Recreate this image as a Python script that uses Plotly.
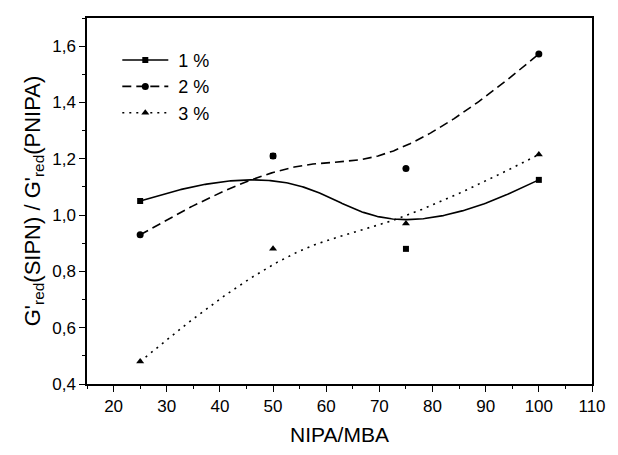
import numpy as np
import plotly.graph_objects as go

# ---- data ----
nipa_mba = [25, 50, 75, 100]
g_1pct = [1.05, 1.21, 0.88, 1.125]
g_2pct = [0.93, 1.21, 1.165, 1.572]
g_3pct = [0.48, 0.88, 0.97, 1.215]
series_names = ["1 %", "2 %", "3 %"]
x_ticks = [20, 30, 40, 50, 60, 70, 80, 90, 100, 110]
y_ticks = [0.4, 0.6, 0.8, 1.0, 1.2, 1.4, 1.6]


def smooth_curve(xs, ys, n=60, sigma_x=4.0):
    """Clamped quadratic B-spline with the data as control points,
    lightly Gaussian-smoothed to remove the curvature jump at the join."""
    P = np.column_stack([xs, ys]).astype(float)
    starts = [P[0]] + [(P[i] + P[i + 1]) / 2 for i in range(1, len(P) - 2)]
    ends = [(P[i] + P[i + 1]) / 2 for i in range(1, len(P) - 2)] + [P[-1]]
    ctrls = [P[i] for i in range(1, len(P) - 1)]
    s = np.linspace(0, 1, n)[:, None]
    pts = np.vstack([(1 - s) ** 2 * a + 2 * s * (1 - s) * c + s ** 2 * b
                     for a, c, b in zip(starts, ctrls, ends)])
    order = np.argsort(pts[:, 0])
    px, py = pts[order, 0], pts[order, 1]
    fx = np.linspace(xs[0], xs[-1], 301)
    fy = np.interp(fx, px, py)
    step = fx[1] - fx[0]
    half = int(3 * sigma_x / step)
    k = np.exp(-0.5 * ((np.arange(-half, half + 1) * step) / sigma_x) ** 2)
    k /= k.sum()
    left = 2 * fy[0] - fy[1:half + 1][::-1]
    right = 2 * fy[-1] - fy[-half - 1:-1][::-1]
    padded = np.concatenate([left, fy, right])
    sy = np.convolve(padded, k, mode="valid")
    return fx, sy


styles = [
    dict(dash="solid", symbol="square", size=6),
    dict(dash="9px,5px", symbol="circle", size=7),
    dict(dash="2px,5px", symbol="triangle-up", size=7),
]

fig = go.Figure()
for name, ys, st in zip(series_names, [g_1pct, g_2pct, g_3pct], styles):
    cx, cy = smooth_curve(nipa_mba, ys)
    fig.add_trace(go.Scatter(
        x=cx, y=cy, mode="lines", name=name, legendgroup=name,
        line=dict(color="black", width=1.6, dash=st["dash"]),
        showlegend=False, hoverinfo="skip"))
    fig.add_trace(go.Scatter(
        x=nipa_mba, y=ys, mode="markers", name=name, legendgroup=name,
        marker=dict(symbol=st["symbol"], size=st["size"], color="black"),
        showlegend=False))
    fig.add_trace(go.Scatter(
        x=[None], y=[None], mode="lines+markers",
        name="\u00a0" + name, legendgroup=name,
        line=dict(color="black", width=1.6, dash=st["dash"]),
        marker=dict(symbol=st["symbol"], size=st["size"], color="black")))

font_family = "Liberation Sans, Arial, Helvetica, sans-serif"

fig.update_layout(
    width=618, height=455,
    margin=dict(l=87, r=19, t=18, b=62),
    paper_bgcolor="white", plot_bgcolor="white",
    separators=", ",
    font=dict(family=font_family, size=17, color="black"),
    showlegend=True,
    legend=dict(x=0.06, y=0.935, xanchor="left", yanchor="top",
                bgcolor="rgba(0,0,0,0)", font=dict(size=18),
                itemwidth=46, tracegroupgap=0),
    xaxis=dict(
        range=[15, 110], tickvals=x_ticks, ticks="outside", ticklen=6,
        tickwidth=1.3, tickcolor="black",
        minor=dict(dtick=5, tick0=15, ticks="outside", ticklen=3, tickcolor="black", tickwidth=1.2),
        showline=True, linecolor="black", linewidth=1.5, mirror=True,
        showgrid=False, zeroline=False,
        title=dict(text="NIPA/MBA", font=dict(size=21), standoff=12),
    ),
    yaxis=dict(
        range=[0.4, 1.7], tickvals=y_ticks, tickformat=".1f", ticks="outside",
        ticklen=6, tickwidth=1.3, tickcolor="black",
        minor=dict(dtick=0.1, tick0=0.4, ticks="outside", ticklen=3, tickcolor="black", tickwidth=1.2),
        showline=True, linecolor="black", linewidth=1.5, mirror=True,
        showgrid=False, zeroline=False,
        title=dict(text="G'<sub>red</sub>(SIPN) / G'<sub>red</sub>(PNIPA)",
                   font=dict(size=22), standoff=6),
    ),
)

fig.write_html("out.html")
